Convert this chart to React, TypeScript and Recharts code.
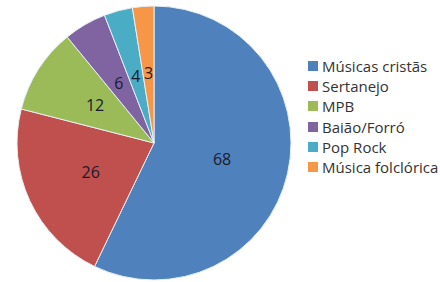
import { PieChart, Pie, Cell, Legend } from "recharts";

const categories = [
  "Músicas cristãs",
  "Sertanejo",
  "MPB",
  "Baião/Forró",
  "Pop Rock",
  "Música folclórica",
];
const values = [68, 26, 12, 6, 4, 3];
const colors = ["#4F81BD", "#C0504D", "#9BBB59", "#8064A2", "#4BACC6", "#F79646"];

const data = categories.map((name, i) => ({ name, value: values[i] }));

const RAD = Math.PI / 180;
const FONT = "'Open Sans', sans-serif";

// value label at ~half radius, like the Excel default
const renderLabel = ({ cx, cy, midAngle, outerRadius, value }: any) => {
  const r = outerRadius * 0.51;
  const x = cx + r * Math.cos(-midAngle * RAD);
  const y = cy + r * Math.sin(-midAngle * RAD);
  return (
    <text
      x={x}
      y={y}
      fill="#1a1a2e"
      fontSize={16}
      fontFamily={FONT}
      textAnchor="middle"
      dominantBaseline="central"
    >
      {value}
    </text>
  );
};

const CustomLegend = () => (
  <div style={{ fontFamily: FONT, fontSize: 15, color: "#333" }}>
    {categories.map((name, i) => (
      <div
        key={name}
        style={{ display: "flex", alignItems: "center", height: 20.2 }}
      >
        <div
          style={{
            width: 10,
            height: 10,
            backgroundColor: colors[i],
            marginRight: 4,
          }}
        />
        <span>{name}</span>
      </div>
    ))}
  </div>
);

export default function App() {
  return (
    <div
      style={{
        position: "absolute",
        left: 0,
        top: 0,
        width: 440,
        height: 282,
        background: "#fff",
      }}
    >
      <PieChart
        width={440}
        height={282}
        margin={{ top: 0, right: 0, bottom: 0, left: 0 }}
      >
        <Pie
          data={data}
          dataKey="value"
          nameKey="name"
          cx={154}
          cy={143}
          outerRadius={137}
          startAngle={90}
          endAngle={-270}
          stroke="#e8eef5"
          strokeWidth={1}
          label={renderLabel}
          labelLine={false}
          isAnimationActive={false}
        >
          {data.map((d, i) => (
            <Cell key={d.name} fill={colors[i]} />
          ))}
        </Pie>
        <Legend
          content={<CustomLegend />}
          wrapperStyle={{ left: 308, top: 56, width: 132 }}
        />
      </PieChart>
    </div>
  );
}
